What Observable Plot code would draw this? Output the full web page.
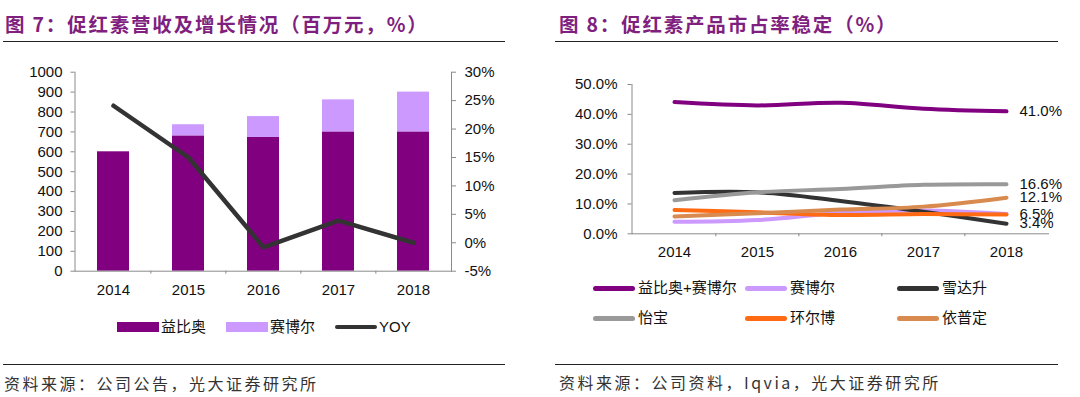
<!DOCTYPE html>
<html><head><meta charset="utf-8">
<script src="https://cdn.jsdelivr.net/npm/d3@7"></script>
<script src="https://cdn.jsdelivr.net/npm/@observablehq/plot@0.6"></script>
<style>
html,body{margin:0;padding:0;background:#fff;}
body{width:1080px;height:397px;position:relative;overflow:hidden;font-family:"Liberation Sans",Arial,"Noto Sans CJK SC",sans-serif;}
.abs{position:absolute;}
.title{font-family:"Noto Sans CJK SC",sans-serif;font-weight:700;font-size:19.5px;line-height:22px;color:#7f1f80;letter-spacing:1.8px;white-space:nowrap;}
.rule{height:0;border-top:1.3px solid #222;}
.src{font-family:"Noto Sans CJK SC",sans-serif;font-size:16px;line-height:20px;color:#333;letter-spacing:2.5px;white-space:nowrap;}
.leg{font-size:15px;line-height:18px;color:#111;display:flex;align-items:center;white-space:nowrap;font-family:"Liberation Sans","Noto Sans CJK SC",sans-serif;}
.leg .it{display:flex;align-items:center;}
.sw{display:inline-block;}
svg{overflow:visible;}
</style></head>
<body>
<div class="abs title" style="left:5px;top:13px;">图 7：促红素营收及增长情况（百万元，%）</div>
<div class="abs rule" style="left:3px;top:41px;width:502px;"></div>
<div class="abs title" style="left:559px;top:13px;">图 8：促红素产品市占率稳定（%）</div>
<div class="abs rule" style="left:555px;top:41px;width:503px;"></div>

<div id="c1a" class="abs" style="left:0;top:55px;"></div>
<div id="c1b" class="abs" style="left:0;top:55px;"></div>
<div id="c2" class="abs" style="left:540px;top:55px;"></div>

<div id="leg1" class="abs leg" style="left:117px;top:318px;"></div>
<div id="leg2" class="abs" style="left:593px;top:279px;"></div>

<div class="abs rule" style="left:3px;top:364px;width:502px;"></div>
<div class="abs rule" style="left:555px;top:364px;width:503px;"></div>
<div class="abs src" style="left:4px;top:373px;">资料来源：公司公告，光大证券研究所</div>
<div class="abs src" style="left:559px;top:372px;">资料来源：公司资料，Iqvia，光大证券研究所</div>

<script>
// ---------- data: chart 1 ----------
const years = ["2014", "2015", "2016", "2017", "2018"];
const revSeries = ["益比奥", "赛博尔"];
const revYibiao = [600, 680, 672, 700, 700];
const revSaiboer = [0, 56, 105, 161, 200];
const yoySeries = "YOY";
const yoyValues = [24.1, 15.0, -0.8, 3.9, 0];
const revTicks = [0, 100, 200, 300, 400, 500, 600, 700, 800, 900, 1000];
const yoyTicks = [-5, 0, 5, 10, 15, 20, 25, 30];
const revColors = ["#800080", "#CC99FF"];
const yoyColor = "#333333";

// ---------- data: chart 2 ----------
const shareSeries = ["益比奥+赛博尔", "赛博尔", "雪达升", "怡宝", "环尔博", "依普定"];
const shareYibiaoSaiboer = [44.1, 43.0, 43.9, 41.9, 41.0];
const shareSaiboer = [4.0, 4.6, 7.0, 7.8, 6.6];
const shareXuedasheng = [13.7, 13.9, 11.0, 7.4, 3.4];
const shareYibao = [11.2, 13.9, 15.0, 16.4, 16.6];
const shareHuanerbo = [8.0, 7.2, 6.3, 6.6, 6.5];
const shareYipuding = [5.8, 6.9, 8.1, 9.1, 12.1];
const shareTicks = [0, 10, 20, 30, 40, 50];
const shareColors = ["#800080", "#CC99FF", "#333333", "#999999", "#FF6A13", "#D98A4F"];
const labelledSeries = ["益比奥+赛博尔", "雪达升", "怡宝", "环尔博", "依普定"];

const font = '"Liberation Sans", Arial, "Noto Sans CJK SC", sans-serif';
const axisGray = "#8a8a8a";

// ---------- chart 1 ----------
const W1 = 500, H1 = 250, ml1 = 74.5, mr1 = 49, mt1 = 16.7, mb1 = 34.3;
const step1 = (W1 - ml1 - mr1) / years.length;
const barData = years.flatMap((y, i) => [
  {year: y, series: revSeries[0], value: revYibiao[i]},
  {year: y, series: revSeries[1], value: revSaiboer[i]}
]);
const yoyData = years.map((y, i) => ({year: y, value: yoyValues[i]}));
const xOpts = {domain: years, paddingInner: 0.575, paddingOuter: 0.2875, axis: null, label: null};
const common1 = {width: W1, height: H1, marginLeft: ml1, marginRight: mr1, marginTop: mt1, marginBottom: mb1,
  style: {fontFamily: font, fontSize: "15px", color: "#111", background: "transparent", overflow: "visible"}};

const p1 = Plot.plot({
  ...common1,
  x: xOpts,
  y: {domain: [0, 1000], axis: null, label: null},
  color: {domain: revSeries, range: revColors},
  marks: [
    Plot.barY(barData, {x: "year", y: "value", fill: "series"}),
    Plot.axisX({tickSize: 0, tickPadding: 13, fontSize: 15, fill: "#111", label: null}),
    Plot.axisY({ticks: revTicks, tickFormat: d => String(d), tickSize: 4, tickPadding: 8.5, stroke: axisGray, fill: "#111", fontSize: 15, label: null}),
    Plot.frame({anchor: "left", stroke: axisGray}),
    Plot.frame({anchor: "bottom", stroke: axisGray}),
    Plot.ruleX(years.slice(1), {y1: 0, y2: -15, dx: -step1 / 2, stroke: axisGray})
  ]
});
document.getElementById("c1a").append(p1);

const p1b = Plot.plot({
  ...common1,
  x: xOpts,
  y: {domain: [-5, 30], axis: null, label: null},
  marks: [
    Plot.axisY({anchor: "right", ticks: yoyTicks, tickFormat: d => d + "%", tickSize: 4, tickPadding: 9, stroke: axisGray, fill: "#111", fontSize: 15, label: null}),
    Plot.frame({anchor: "right", stroke: axisGray}),
    Plot.line(yoyData, {x: "year", y: "value", stroke: yoyColor, strokeWidth: 4.5, strokeLinecap: "round", strokeLinejoin: "round"})
  ]
});
document.getElementById("c1b").append(p1b);

// ---------- chart 2 ----------
const W2 = 540, H2 = 215, ml2 = 91.5, mr2 = 32, mt2 = 29, mb2 = 36.7;
const step2 = (W2 - ml2 - mr2) / years.length;
const shareArrays = [shareYibiaoSaiboer, shareSaiboer, shareXuedasheng, shareYibao, shareHuanerbo, shareYipuding];
const shareData = shareSeries.flatMap((s, k) => years.map((y, i) => ({series: s, year: y, value: shareArrays[k][i]})));
const endData = shareData.filter(d => d.year === years[years.length - 1] && labelledSeries.includes(d.series));

const p2 = Plot.plot({
  width: W2, height: H2, marginLeft: ml2, marginRight: mr2, marginTop: mt2, marginBottom: mb2,
  style: {fontFamily: font, fontSize: "15px", color: "#111", background: "transparent", overflow: "visible"},
  x: {domain: years, paddingInner: 0.575, paddingOuter: 0.2875, axis: null, label: null},
  y: {domain: [0, 50], axis: null, label: null},
  color: {domain: shareSeries, range: shareColors},
  marks: [
    Plot.axisX({tickSize: 0, tickPadding: 13, fontSize: 15, fill: "#111", label: null}),
    Plot.axisY({ticks: shareTicks, tickFormat: d => d.toFixed(1) + "%", tickSize: 4, tickPadding: 10.5, stroke: axisGray, fill: "#111", fontSize: 15, label: null}),
    Plot.frame({anchor: "left", stroke: axisGray}),
    Plot.frame({anchor: "bottom", stroke: axisGray}),
    Plot.ruleX(years.slice(1), {y1: 0, y2: -1, dx: -step2 / 2, stroke: axisGray}),
    Plot.line(shareData, {x: "year", y: "value", z: "series", stroke: "series", curve: "catmull-rom", strokeWidth: 4, strokeLinecap: "round", strokeLinejoin: "round"}),
    Plot.text(endData, {x: "year", y: "value", text: d => d.value.toFixed(1) + "%", textAnchor: "start", dx: 13, fill: "#111", fontSize: 15})
  ]
});
document.getElementById("c2").append(p2);

// ---------- legends ----------
const leg1 = document.getElementById("leg1");
const leg1Items = [
  {label: revSeries[0], color: revColors[0], kind: "rect"},
  {label: revSeries[1], color: revColors[1], kind: "rect"},
  {label: yoySeries, color: yoyColor, kind: "line"}
];
leg1Items.forEach((it, i) => {
  const d = document.createElement("div");
  d.className = "it";
  d.style.marginRight = i < leg1Items.length - 1 ? "20px" : "0";
  const sw = document.createElement("span");
  sw.className = "sw";
  sw.style.width = "42px";
  sw.style.height = it.kind === "rect" ? "10px" : "4.5px";
  sw.style.background = it.color;
  if (it.kind === "line") sw.style.borderRadius = "3px";
  sw.style.marginRight = "2px";
  const t = document.createElement("span");
  t.textContent = it.label;
  d.append(sw, t);
  leg1.append(d);
});

const leg2 = document.getElementById("leg2");
shareSeries.forEach((s, k) => {
  const d = document.createElement("div");
  d.className = "abs leg";
  d.style.left = (k % 3) * 152 + "px";
  d.style.top = Math.floor(k / 3) * 30 + "px";
  const sw = document.createElement("span");
  sw.className = "sw";
  sw.style.width = "42px";
  sw.style.height = "5px";
  sw.style.borderRadius = "3px";
  sw.style.background = shareColors[k];
  sw.style.marginRight = "3px";
  const t = document.createElement("span");
  t.textContent = s;
  d.append(sw, t);
  leg2.append(d);
});
</script>
</body></html>
